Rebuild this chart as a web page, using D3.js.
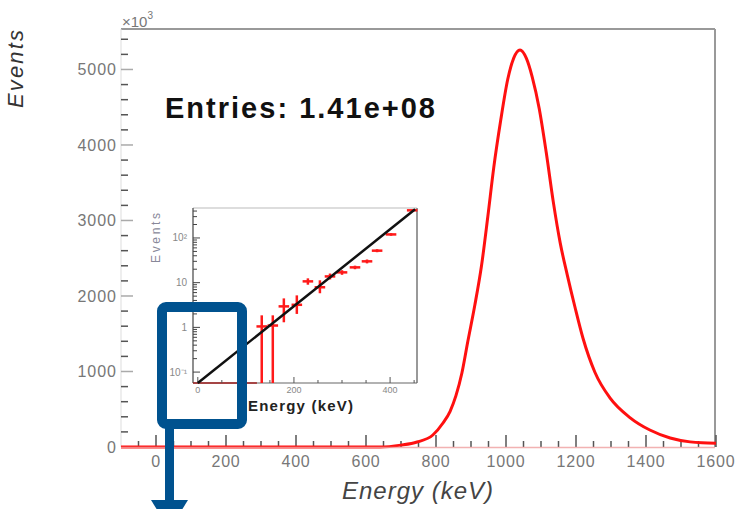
<!DOCTYPE html>
<html>
<head>
<meta charset="utf-8">
<script src="https://cdn.jsdelivr.net/npm/d3@7"></script>
<style>
  body { margin: 0; background: #fff; }
  svg { display: block; font-family: "Liberation Sans", Arial, sans-serif; }
</style>
</head>
<body>
<div id="chart"></div>
<script>
// main histogram (Events in units of 10^3)
var energy = [-100, 640, 700, 746, 791, 820, 840, 857, 874, 891, 911, 930, 948, 965, 985, 1005, 1022, 1040,
  1058, 1075, 1095, 1115, 1135, 1155, 1175, 1197, 1220, 1254, 1297, 1354, 1411, 1469, 1526, 1560, 1600];
var events = [0, 0, 25, 66, 159, 318, 470, 680, 980, 1400, 1880, 2400, 3050, 3700, 4330, 4870, 5150, 5258,
  5150, 4900, 4480, 3900, 3250, 2700, 2280, 1854, 1440, 990, 650, 390, 225, 120, 68, 55, 50];
var xTicks = [0, 200, 400, 600, 800, 1000, 1200, 1400, 1600];
var yTicks = [0, 1000, 2000, 3000, 4000, 5000];

// inset: low-energy part, log scale
var insetE = [133, 156, 179, 206, 229, 254, 275, 300, 327, 352, 373, 402, 446];
var insetV = [1.05, 1.1, 2.95, 3.2, 10.7, 7.9, 13.8, 17, 22, 30, 52, 120, 415];
var insetLo = [0.057, 0.057, 1.3, 2.0, 9.0, 5.8, 11.8, 15, 20, 27, 48, 112, 400];
var insetHi = [1.86, 1.86, 4.45, 5.2, 12.5, 11.3, 16, 19, 24, 33, 56, 128, 430];
var fitE = [0, 452];
var fitV = [0.057, 437];
var insetXTicks = [0, 200, 400];
var insetYTicks = [0.1, 1, 10, 100];
var insetYLabels = ["10⁻¹", "1", "10", "10²"];

var svgWidth = 739;
var svgHeight = 509;

var svg = d3.select("#chart").append("svg")
  .attr("width", svgWidth)
  .attr("height", svgHeight);

// main scales
var x = d3.scaleLinear().domain([-100, 1600]).range([121, 716]);
var y = d3.scaleLinear().domain([0, 5536]).range([447, 29]);

// frame top / right
svg.append("line").attr("x1", 121).attr("x2", 715).attr("y1", 29).attr("y2", 29)
  .attr("stroke", "#999").attr("stroke-width", 2);
svg.append("line").attr("x1", 715).attr("x2", 715).attr("y1", 29).attr("y2", 447)
  .attr("stroke", "#999").attr("stroke-width", 2);
// left axis line (faint)
svg.append("line").attr("x1", 121).attr("x2", 121).attr("y1", 29).attr("y2", 447)
  .attr("stroke", "#ddd").attr("stroke-width", 1);

// y ticks (inside)
var yMinor = d3.range(0, 5500, 200);
svg.append("g").selectAll("line").data(yMinor).enter().append("line")
  .attr("x1", 121)
  .attr("x2", d => d % 1000 === 0 ? 133 : 128)
  .attr("y1", d => y(d)).attr("y2", d => y(d))
  .attr("stroke", d => d % 1000 === 0 ? "#aaa" : "#555")
  .attr("stroke-width", 1.5);

svg.append("g").selectAll("text").data(yTicks).enter().append("text")
  .attr("x", 117)
  .attr("y", d => y(d) + 6)
  .attr("text-anchor", "end")
  .attr("font-size", 16)
  .attr("letter-spacing", 1)
  .attr("fill", "#777")
  .text(d => d);

// x ticks (inside)
var xMinor = d3.range(-50, 1601, 50);
svg.append("g").selectAll("line").data(xMinor).enter().append("line")
  .attr("x1", d => x(d)).attr("x2", d => x(d))
  .attr("y1", 447)
  .attr("y2", d => d % 200 === 0 ? 435 : 441)
  .attr("stroke", "#555")
  .attr("stroke-width", 1.5);

svg.append("g").selectAll("text").data(xTicks).enter().append("text")
  .attr("x", d => x(d))
  .attr("y", 467)
  .attr("text-anchor", "middle")
  .attr("font-size", 16)
  .attr("letter-spacing", 0.8)
  .attr("fill", "#777")
  .text(d => d);

// exponent label
var expo = svg.append("text").attr("x", 122).attr("y", 27).attr("font-size", 15).attr("fill", "#777");
expo.append("tspan").text("×10");
expo.append("tspan").attr("dy", -8).attr("font-size", 10).text("3");

// histogram curve
var line = d3.line()
  .x((d, i) => x(energy[i]))
  .y(d => y(d))
  .curve(d3.curveMonotoneX);

svg.append("path")
  .datum(events)
  .attr("d", line)
  .attr("fill", "none")
  .attr("stroke", "#ff1010")
  .attr("stroke-width", 3);

// bottom axis line on top of the zero part
svg.append("line").attr("x1", 121).attr("x2", 715).attr("y1", 447.5).attr("y2", 447.5)
  .attr("stroke", "#f0a0a0").attr("stroke-width", 1.5).attr("opacity", 0.8);

// axis titles
svg.append("text")
  .attr("transform", "translate(23,69) rotate(-90)")
  .attr("text-anchor", "middle")
  .attr("font-size", 22)
  .attr("font-style", "italic")
  .attr("fill", "#333")
  .attr("textLength", 78)
  .text("Events");

svg.append("text")
  .attr("x", 342)
  .attr("y", 499)
  .attr("font-size", 24)
  .attr("font-style", "italic")
  .attr("fill", "#444")
  .attr("textLength", 151)
  .text("Energy (keV)");

svg.append("text")
  .attr("x", 165)
  .attr("y", 118)
  .attr("font-size", 29)
  .attr("font-weight", "bold")
  .attr("fill", "#111")
  .attr("textLength", 270)
  .text("Entries: 1.41e+08");

// ---------- inset ----------
var ix = d3.scaleLinear().domain([-10, 456]).range([193, 417]);
var iy = d3.scaleLog().domain([0.057, 468]).range([383, 208]);

var inset = svg.append("g");
inset.append("rect").attr("x", 193).attr("y", 208).attr("width", 224).attr("height", 175)
  .attr("fill", "#fff");
inset.append("line").attr("x1", 193).attr("x2", 417).attr("y1", 208).attr("y2", 208)
  .attr("stroke", "#bbb").attr("stroke-width", 1);
inset.append("line").attr("x1", 417).attr("x2", 417).attr("y1", 208).attr("y2", 383)
  .attr("stroke", "#999").attr("stroke-width", 2);
inset.append("line").attr("x1", 193).attr("x2", 193).attr("y1", 208).attr("y2", 383)
  .attr("stroke", "#444").attr("stroke-width", 1.2);
inset.append("line").attr("x1", 193).attr("x2", 417).attr("y1", 383).attr("y2", 383)
  .attr("stroke", "#666").attr("stroke-width", 1.2);
// zero bins before first point
inset.append("line").attr("x1", ix(-10)).attr("x2", ix(insetE[0] - 10)).attr("y1", 383).attr("y2", 383)
  .attr("stroke", "#a02020").attr("stroke-width", 1.5);

// inset y ticks (log)
var iyMinor = [];
[0.1, 1, 10, 100].forEach(function(dec) {
  for (var k = 1; k < 10; k++) {
    if (dec * k <= 468) iyMinor.push(dec * k);
  }
});
inset.append("g").selectAll("line").data(iyMinor).enter().append("line")
  .attr("x1", 193)
  .attr("x2", (d, i) => i % 9 === 0 ? 200 : 197)
  .attr("y1", d => iy(d)).attr("y2", d => iy(d))
  .attr("stroke", "#444").attr("stroke-width", 1);

inset.append("g").selectAll("text").data(insetYTicks).enter().append("text")
  .attr("x", 187)
  .attr("y", d => iy(d) + 3.5)
  .attr("text-anchor", "end")
  .attr("font-size", 10)
  .attr("fill", "#888")
  .text((d, i) => insetYLabels[i]);

// inset x ticks
var ixMinor = d3.range(0, 456, 50);
inset.append("g").selectAll("line").data(ixMinor).enter().append("line")
  .attr("x1", d => ix(d)).attr("x2", d => ix(d))
  .attr("y1", 383)
  .attr("y2", d => d % 200 === 0 ? 377 : 380)
  .attr("stroke", "#555").attr("stroke-width", 1);

inset.append("g").selectAll("text").data(insetXTicks).enter().append("text")
  .attr("x", d => ix(d))
  .attr("y", 393)
  .attr("text-anchor", "middle")
  .attr("font-size", 9)
  .attr("fill", "#888")
  .text(d => d);

inset.append("text")
  .attr("transform", "translate(160,238) rotate(-90)")
  .attr("text-anchor", "middle")
  .attr("font-size", 12)
  .attr("fill", "#889")
  .attr("textLength", 50)
  .text("Events");

inset.append("text")
  .attr("x", 248)
  .attr("y", 411)
  .attr("font-size", 15)
  .attr("font-weight", "bold")
  .attr("fill", "#222")
  .attr("textLength", 105)
  .text("Energy (keV)");

// error bars
var pts = inset.append("g").selectAll("g").data(insetV).enter().append("g");
pts.append("line")
  .attr("x1", (d, i) => ix(insetE[i])).attr("x2", (d, i) => ix(insetE[i]))
  .attr("y1", (d, i) => iy(insetLo[i])).attr("y2", (d, i) => iy(insetHi[i]))
  .attr("stroke", "#ff1a1a").attr("stroke-width", 2.5);
pts.append("line")
  .attr("x1", (d, i) => ix(insetE[i] - 11)).attr("x2", (d, i) => ix(insetE[i] + 11))
  .attr("y1", d => iy(d)).attr("y2", d => iy(d))
  .attr("stroke", "#ff1a1a").attr("stroke-width", 2.5);

// fit line
inset.append("path")
  .datum(fitV)
  .attr("d", d3.line().x((d, i) => ix(fitE[i])).y(d => iy(d)))
  .attr("fill", "none")
  .attr("stroke", "#111")
  .attr("stroke-width", 2.5);

// ---------- annotation box + arrow ----------
var blue = "#00528f";
svg.append("rect")
  .attr("x", 162).attr("y", 307).attr("width", 80).attr("height", 117)
  .attr("rx", 4)
  .attr("fill", "none")
  .attr("stroke", blue)
  .attr("stroke-width", 10);
svg.append("rect")
  .attr("x", 165).attr("y", 428).attr("width", 9).attr("height", 74)
  .attr("fill", blue);
svg.append("path")
  .attr("d", "M151,500 L188,500 L169.5,530 Z")
  .attr("fill", blue);
</script>
</body>
</html>
